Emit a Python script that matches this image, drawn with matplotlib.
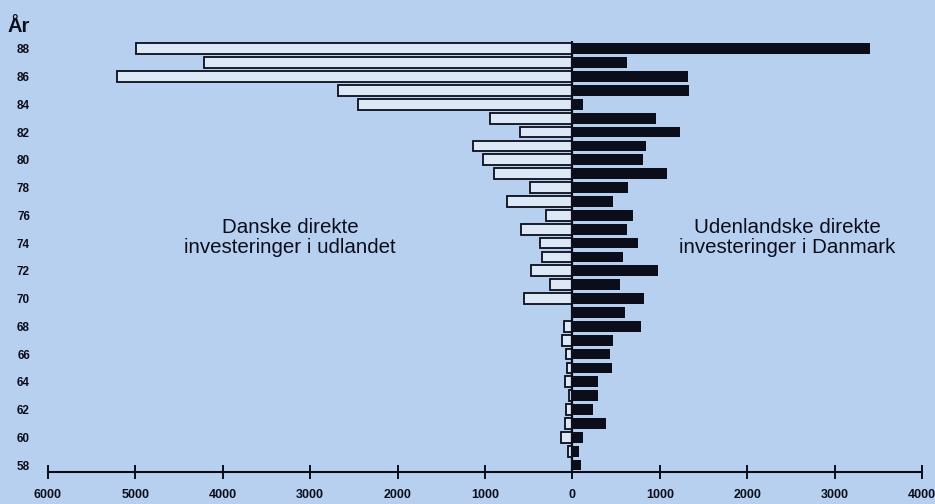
import numpy as np
import matplotlib.pyplot as plt

# år 1958-1988 (vist som 58..88)
aar = list(range(58, 89))

# danske direkte investeringer i udlandet (mio. kr.), 58 -> 88
udland = [0, 50, 125, 90, 70, 40, 80, 60, 70, 115, 95, 0,
          555, 260, 470, 350, 370, 585, 305, 745, 490, 895,
          1020, 1140, 595, 940, 2455, 2685, 5210, 4210, 4990]

# udenlandske direkte investeringer i Danmark, 58 -> 88
danmark = [95, 80, 120, 380, 240, 290, 295, 450, 435, 460, 780, 600,
           820, 550, 980, 580, 750, 630, 690, 465, 640, 1080,
           805, 840, 1230, 960, 120, 1335, 1320, 620, 3410]

xticks = [-6000, -5000, -4000, -3000, -2000, -1000, 0, 1000, 2000, 3000, 4000]
xticklabels = ["6000", "5000", "4000", "3000", "2000", "1000", "0",
               "1000", "2000", "3000", "4000"]
yticks = list(range(58, 89, 2))

bg = "#b8d0f0"
ink = "#0b0e1a"

plt.rcParams["font.family"] = ["Liberation Sans", "DejaVu Sans"]

fig = plt.figure(figsize=(9.35, 5.04), dpi=100, facecolor=bg)
ax = fig.add_axes([48 / 935, (504 - 472) / 504, 874 / 935, (472 - 28) / 504])
ax.set_facecolor(bg)

y = np.array(aar)
ax.barh(y, -np.array(udland), height=0.78, color="#dde8f7",
        edgecolor=ink, linewidth=1.3, zorder=2)
ax.barh(y, danmark, height=0.78, color=ink, linewidth=0, zorder=3)
ax.vlines(0, 57.5, 88.55, color=ink, linewidth=1.6, zorder=4)

ax.set_xlim(-6000, 4000)
ax.set_ylim(57.5, 89.5)

for s in ["left", "right", "top"]:
    ax.spines[s].set_visible(False)
ax.spines["bottom"].set_color(ink)
ax.spines["bottom"].set_linewidth(1.5)
ax.spines["bottom"].set_position(("data", 57.5))

ax.set_xticks(xticks)
ax.set_xticklabels(xticklabels, fontsize=9, fontweight="bold", color=ink)
ax.tick_params(axis="x", direction="inout", length=10, width=1.4,
               color=ink, pad=7)

ax.set_yticks(yticks)
ax.set_yticklabels([str(v) for v in yticks], fontsize=8.5,
                   fontweight="bold", color=ink)
ax.tick_params(axis="y", length=0, pad=13)

fig.text(8 / 935, 1 - 32 / 504, "År", fontsize=14.5, fontweight="bold",
         color=ink, ha="left", va="baseline")

ax.text(-3230, 74.4, "Danske direkte\ninvesteringer i udlandet",
        fontsize=14.8, color=ink, ha="center", va="center", linespacing=1.05)
ax.text(2460, 74.4, "Udenlandske direkte\ninvesteringer i Danmark",
        fontsize=14.8, color=ink, ha="center", va="center", linespacing=1.05)

fig.savefig("out.png", dpi=100, facecolor=bg)
